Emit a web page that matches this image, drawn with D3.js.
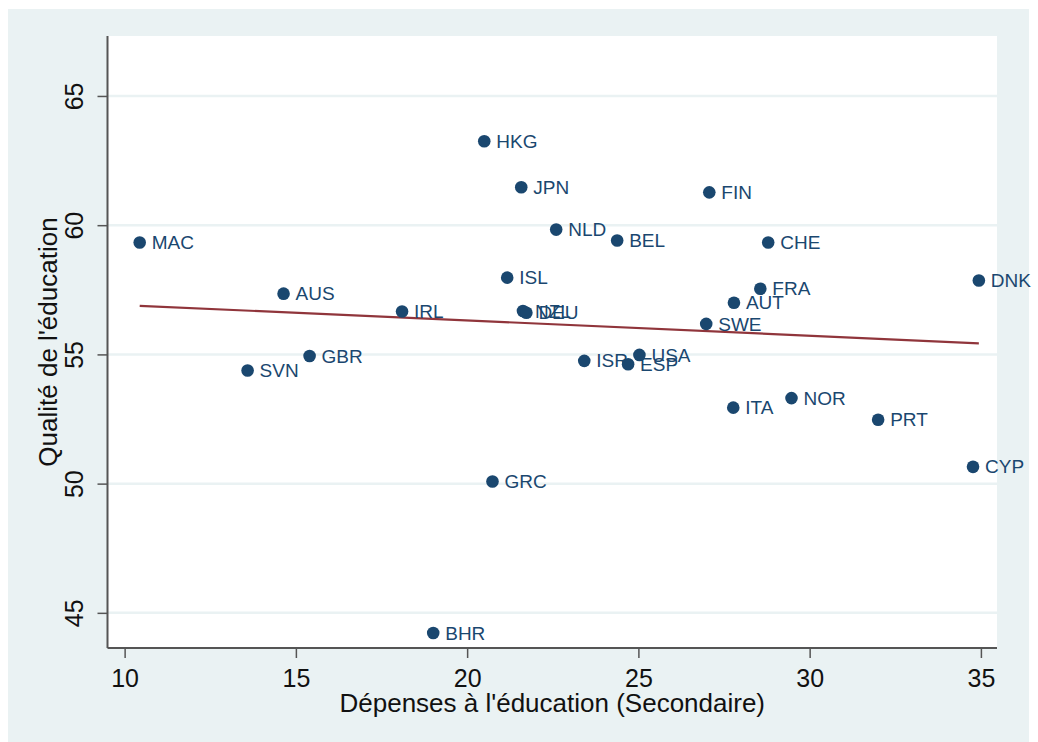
<!DOCTYPE html>
<html>
<head>
<meta charset="utf-8">
<script src="https://cdn.jsdelivr.net/npm/d3@7"></script>
<style>
  html, body { margin: 0; padding: 0; background: #ffffff; }
  svg { display: block; }
  text { font-family: "Liberation Sans", Arial, Helvetica, sans-serif; }
</style>
</head>
<body>
<script>
// ---- Data ----
const countries = ["HKG","JPN","FIN","MAC","NLD","BEL","CHE","DNK","ISL","AUS","FRA","AUT","IRL","NZL","DEU","SWE","USA","ISR","ESP","GBR","SVN","ITA","NOR","PRT","CYP","GRC","BHR"];
const depenses  = [20.50, 21.58, 27.07, 10.44, 22.60, 24.38, 28.79, 34.94, 21.17, 14.64, 28.56, 27.79, 18.10, 21.63, 21.73, 26.98, 25.03, 23.42, 24.70, 15.40, 13.59, 27.77, 29.47, 32.00, 34.77, 20.74, 19.01];
const qualite   = [63.25, 61.47, 61.27, 59.33, 59.83, 59.41, 59.33, 57.86, 57.97, 57.35, 57.54, 57.00, 56.66, 56.68, 56.61, 56.18, 54.98, 54.75, 54.62, 54.94, 54.38, 52.94, 53.31, 52.47, 50.65, 50.08, 44.22];
// linear fit (lfit) endpoints
const fitX = [10.44, 34.94];
const fitY = [56.88, 55.43];
const xTicks = [10, 15, 20, 25, 30, 35];
const yTicks = [45, 50, 55, 60, 65];
const xTitle = "Dépenses à l'éducation (Secondaire)";
const yTitle = "Qualité de l'éducation";

// ---- Layout ----
const W = 1038, H = 742;
const plot = { left: 107.5, right: 997, top: 36, bottom: 648 };
const navy = "#1a476f", maroon = "#90353b", bg = "#eaf2f3";

const svg = d3.select("body").append("svg").attr("width", W).attr("height", H);

// outer graph region
svg.append("rect").attr("x", 8).attr("y", 9).attr("width", 1021).attr("height", 733).attr("fill", bg);
// plot region
svg.append("rect").attr("x", plot.left).attr("y", plot.top)
  .attr("width", plot.right - plot.left).attr("height", plot.bottom - plot.top).attr("fill", "#ffffff");

const x = d3.scaleLinear().domain([9.50, 35.47]).range([plot.left, plot.right]);
const y = d3.scaleLinear().domain([43.64, 67.32]).range([plot.bottom, plot.top]);

// gridlines
svg.append("g").selectAll("line").data(yTicks).join("line")
  .attr("x1", plot.left).attr("x2", plot.right)
  .attr("y1", d => y(d)).attr("y2", d => y(d))
  .attr("stroke", bg).attr("stroke-width", 2.5);

// fit line
svg.append("line")
  .attr("x1", x(fitX[0])).attr("y1", y(fitY[0]))
  .attr("x2", x(fitX[1])).attr("y2", y(fitY[1]))
  .attr("stroke", maroon).attr("stroke-width", 2.2);

// points
const pts = countries.map((c, i) => ({ c, x: depenses[i], y: qualite[i] }));
svg.append("g").selectAll("circle").data(pts).join("circle")
  .attr("cx", d => x(d.x)).attr("cy", d => y(d.y)).attr("r", 6.3).attr("fill", navy);
svg.append("g").selectAll("text").data(pts).join("text")
  .attr("x", d => x(d.x) + 12).attr("y", d => y(d.y) + 6.6)
  .attr("fill", navy).attr("font-size", 19).text(d => d.c);

// axes
const xAxis = d3.axisBottom(x).tickValues(xTicks).tickSize(10).tickPadding(0).tickFormat(d3.format("d"));
const gx = svg.append("g").attr("transform", `translate(0,${plot.bottom})`).call(xAxis);
gx.select(".domain").attr("stroke", "#555").attr("stroke-width", 2)
  .attr("d", `M${plot.left},0H${plot.right}`);
gx.selectAll(".tick line").attr("stroke", "#555").attr("stroke-width", 1.5);
gx.selectAll(".tick text").attr("font-size", 25).attr("fill", "#111")
  .attr("dy", null).attr("y", 39).attr("font-family", "Liberation Sans, Arial, sans-serif");

const yAxis = d3.axisLeft(y).tickValues(yTicks).tickSize(10).tickPadding(0).tickFormat(d3.format("d"));
const gy = svg.append("g").attr("transform", `translate(${plot.left},0)`).call(yAxis);
gy.select(".domain").attr("stroke", "#555").attr("stroke-width", 2)
  .attr("d", `M0,${plot.top}V${plot.bottom}`);
gy.selectAll(".tick line").attr("stroke", "#555").attr("stroke-width", 1.5);
gy.selectAll(".tick text").attr("font-size", 25).attr("fill", "#111")
  .attr("x", null).attr("dy", null).attr("text-anchor", "middle")
  .attr("transform", "translate(-24.5,0) rotate(-90)").attr("y", 0)
  .attr("font-family", "Liberation Sans, Arial, sans-serif");

// axis titles
svg.append("text").attr("x", (plot.left + plot.right) / 2).attr("y", 712)
  .attr("text-anchor", "middle").attr("font-size", 26).attr("fill", "#111").text(xTitle);
svg.append("text").attr("transform", `translate(57,${(plot.top + plot.bottom) / 2}) rotate(-90)`)
  .attr("text-anchor", "middle").attr("font-size", 26).attr("fill", "#111").text(yTitle);
</script>
</body>
</html>
